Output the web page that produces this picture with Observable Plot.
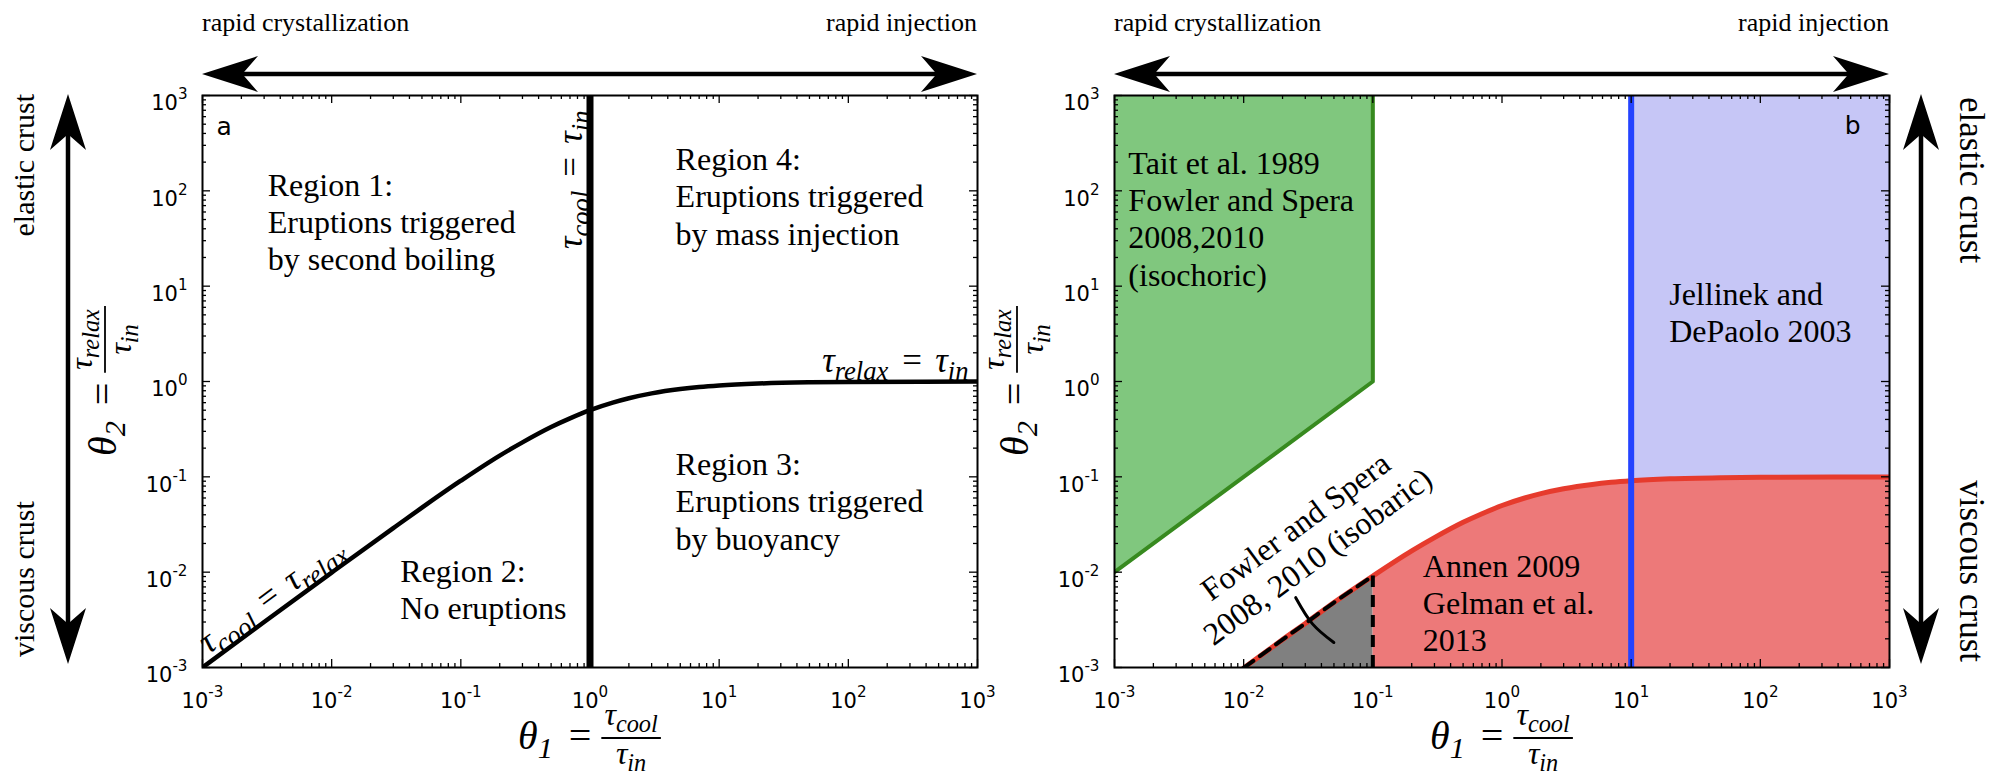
<!DOCTYPE html>
<html>
<head>
<meta charset="utf-8">
<script src="https://cdn.jsdelivr.net/npm/d3@7"></script>
<script src="https://cdn.jsdelivr.net/npm/@observablehq/plot@0.6"></script>
<style>
  html, body { margin: 0; padding: 0; background: #fff; }
  #fig { position: relative; width: 1996px; height: 779px; background: #fff; overflow: hidden; }
  #fig svg { position: absolute; top: 0; overflow: visible; }
</style>
</head>
<body>
<div id="fig"></div>
<script>
// ---------------- data ----------------
const decades = [1e-3, 1e-2, 1e-1, 1, 1e1, 1e2, 1e3];
const tickLabels = ["10^{-3}", "10^{-2}", "10^{-1}", "10^{0}", "10^{1}", "10^{2}", "10^{3}"];
const minorSteps = [2, 3, 4, 5, 6, 7, 8, 9];

// panel a: boundary tau_relax between regions
const theta1A = [0.001, 0.003, 0.01, 0.03, 0.1, 0.2, 0.3, 0.5, 0.7, 1, 1.5, 2, 3, 5, 7, 10, 20, 50, 100, 1000];
const theta2A = [0.001, 0.003, 0.0099, 0.029, 0.091, 0.167, 0.23, 0.333, 0.41, 0.5, 0.6, 0.667, 0.75, 0.833, 0.875, 0.909, 0.952, 0.98, 0.99, 0.999];
const coolEqualsIn = [1];
const regionLabels = [
  "Region 1:\nEruptions triggered\nby second boiling",
  "Region 2:\nNo eruptions",
  "Region 3:\nEruptions triggered\nby buoyancy",
  "Region 4:\nEruptions triggered\nby mass injection"
];
const regionTheta1 = [0.0032, 0.034, 4.6, 4.6];
const regionTheta2 = [43, 0.0059, 0.05, 79];
const boundaryLabelsA = ["τ_{cool}\u2004=\u2004τ_{relax}", "τ_{cool}\u2004=\u2004τ_{in}", "τ_{relax}\u2004=\u2004τ_{in}"];

// panel b
const theta1B = [0.01, 0.02, 0.03, 0.05, 0.1, 0.2, 0.3, 0.5, 0.7, 1, 1.5, 2, 3, 5, 7, 10, 20, 50, 100, 1000];
const theta2B = [0.00099, 0.00196, 0.0029, 0.0048, 0.0091, 0.0167, 0.023, 0.0333, 0.041, 0.05, 0.06, 0.0667, 0.075, 0.0833, 0.0875, 0.0909, 0.0952, 0.098, 0.099, 0.0999];
const isochoricTheta1 = [0.001, 0.1, 0.1];
const isochoricTheta2 = [0.01, 1, 1000];
const isobaricLimit = [0.1];
const jellinekLimit = [10];
const arcTheta1 = [0.0253, 0.0341, 0.0499];
const arcTheta2 = [0.0054, 0.00287, 0.00183];
const studyLabels = [
  "Tait et al. 1989\nFowler and Spera\n2008,2010\n(isochoric)",
  "Jellinek and\nDePaolo 2003",
  "Annen 2009\nGelman et al.\n2013"
];
const studyTheta1 = [0.00128, 19.7, 0.244];
const studyTheta2 = [46, 4.75, 0.00426];
const isobaricLabel = ["Fowler and Spera\n2008, 2010 (isobaric)"];
const isobaricLabelTheta1 = [0.0303];
const isobaricLabelTheta2 = [0.0215];

const panelLetters = ["a", "b"];
const topLabels = ["rapid crystallization", "rapid injection"];
const sideLabels = ["elastic crust", "viscous crust"];
const axisLabelX = ["θ_{1}\u2004=", "τ_{cool}", "τ_{in}"];
const axisLabelY = ["θ_{2}\u2004=", "τ_{relax}", "τ_{in}"];

// ---------------- styling ----------------
const SERIF = "Liberation Serif, Times New Roman, serif";
const SANS = "DejaVu Sans, sans-serif";
const GREEN_FILL = "#80c77e", GREEN = "#378a1f";
const RED_FILL = "#ed7979", RED = "#e63b2d";
const BLUE_FILL = "#c6c6f6", BLUE = "#2443ff";
const GRAY = "#808080";
const FW = 775, FH = 572;
const mathStyle = {fontFamily: SERIF, fontSize: 35, fontStyle: "italic"};
const textStyle = {fontFamily: SERIF, fontSize: 32};

// ---------------- helpers ----------------
function frameTicks() {
  const minors = decades.slice(0, -1).flatMap(d => minorSteps.map(m => d * m));
  const st = {stroke: "black", strokeWidth: 1.3};
  return [
    Plot.ruleX(decades, {...st, insetTop: FH - 8}),
    Plot.ruleX(decades, {...st, insetBottom: FH - 8}),
    Plot.ruleX(minors, {...st, insetTop: FH - 4}),
    Plot.ruleX(minors, {...st, insetBottom: FH - 4}),
    Plot.ruleY(decades, {...st, insetRight: FW - 8}),
    Plot.ruleY(decades, {...st, insetLeft: FW - 8}),
    Plot.ruleY(minors, {...st, insetRight: FW - 4}),
    Plot.ruleY(minors, {...st, insetLeft: FW - 4})
  ];
}
function axes() {
  const fmt = d => tickLabels[decades.indexOf(d)];
  return [
    Plot.axisX({ticks: decades, tickFormat: fmt, tickSize: 0, tickPadding: 26, fontSize: 21, fontFamily: SANS, label: null}),
    Plot.axisY({ticks: decades, tickFormat: fmt, tickSize: 0, tickPadding: 15, dy: 8, fontSize: 21, fontFamily: SANS, label: null})
  ];
}
const NS = "http://www.w3.org/2000/svg";
function addSpan(node, str, kind) {
  const t = document.createElementNS(NS, "tspan");
  t.textContent = str;
  if (kind === "_") {
    t.setAttribute("font-size", "76%");
    t.setAttribute("baseline-shift", "-0.3em");
  } else if (kind === "^") {
    t.setAttribute("font-size", "72%");
    t.setAttribute("baseline-shift", "0.75em");
  }
  node.appendChild(t);
}
function fix(node) {
  const s = node.textContent;
  if (!/[_^]\{/.test(s)) return;
  node.textContent = "";
  const re = /([_^])\{([^}]*)\}/g;
  let last = 0, m;
  while ((m = re.exec(s))) {
    if (m.index > last) addSpan(node, s.slice(last, m.index));
    addSpan(node, m[2], m[1]);
    last = re.lastIndex;
  }
  if (last < s.length) addSpan(node, s.slice(last));
}
function mathify(root) {
  root.querySelectorAll("text, tspan").forEach(n => {
    if (n.children.length === 0 && /[_^]\{/.test(n.textContent)) fix(n);
  });
}
function dart(g, x0, y0, x1, y1) {
  const L = 56, W = 18, N = 0.72;
  const len = Math.hypot(x1 - x0, y1 - y0);
  const ux = (x1 - x0) / len, uy = (y1 - y0) / len, nx = -uy, ny = ux;
  g.append("line")
    .attr("x1", x0 + ux * L * 0.5).attr("y1", y0 + uy * L * 0.5)
    .attr("x2", x1 - ux * L * 0.5).attr("y2", y1 - uy * L * 0.5)
    .attr("stroke", "black").attr("stroke-width", 4.5);
  for (const [tx, ty, s] of [[x0, y0, -1], [x1, y1, 1]]) {
    const bx = tx - s * ux * L, by = ty - s * uy * L;
    const pts = [[tx, ty], [bx + nx * W, by + ny * W], [tx - s * ux * L * N, ty - s * uy * L * N], [bx - nx * W, by - ny * W]];
    g.append("path").attr("d", "M" + pts.map(p => p.join(",")).join("L") + "Z").attr("fill", "black");
  }
}
function fracLabel(svg, cx, cy, angle, parts) {
  const g = svg.append("g").attr("transform", `translate(${cx},${cy}) rotate(${angle})`)
    .attr("font-family", SERIF).attr("font-style", "italic").attr("fill", "black");
  const inner = g.append("g");
  const lhs = inner.append("text").attr("font-size", 40).attr("text-anchor", "start").attr("x", 0).attr("y", 11).text(parts[0]);
  fix(lhs.node());
  const w1 = lhs.node().getBBox().width;
  const num = inner.append("text").attr("font-size", 32).attr("text-anchor", "middle").attr("y", -13).text(parts[1]);
  fix(num.node());
  const den = inner.append("text").attr("font-size", 32).attr("text-anchor", "middle").attr("y", 26).text(parts[2]);
  fix(den.node());
  const W = Math.max(num.node().getBBox().width, den.node().getBBox().width) + 6;
  const x0 = w1 + 8;
  num.attr("x", x0 + W / 2);
  den.attr("x", x0 + W / 2);
  inner.append("line").attr("x1", x0).attr("x2", x0 + W).attr("y1", 0).attr("y2", 0)
    .attr("stroke", "black").attr("stroke-width", 1.8);
  inner.attr("transform", `translate(${-(x0 + W) / 2},0)`);
}
function sideText(g, x, y, angle, anchor, size, label) {
  g.append("text").attr("transform", `translate(${x},${y}) rotate(${angle})`).attr("text-anchor", anchor)
    .attr("dominant-baseline", "central").attr("font-family", SERIF).attr("font-size", size).text(label);
}
function decorate(plot, side) {
  const svg = d3.select(plot);
  const sx = plot.scale("x"), sy = plot.scale("y");
  const xL = sx.apply(decades[0]), xR = sx.apply(decades.at(-1));
  const yT = sy.apply(decades.at(-1)), yB = sy.apply(decades[0]);
  const g = svg.append("g").attr("fill", "black");
  // top arrow + labels
  dart(g, xL, yT - 21, xR, yT - 21);
  g.append("text").attr("x", xL).attr("y", yT - 64).attr("text-anchor", "start").attr("font-family", SERIF).attr("font-size", 26).text(topLabels[0]);
  g.append("text").attr("x", xR).attr("y", yT - 64).attr("text-anchor", "end").attr("font-family", SERIF).attr("font-size", 26).text(topLabels[1]);
  // side arrow + labels
  if (side === "left") {
    const ax = xL - 134, tx = xL - 179;
    dart(g, ax, yB - 3, ax, yT - 1);
    sideText(g, tx, yT - 1, -90, "end", 30, sideLabels[0]);
    sideText(g, tx, yB - 10, -90, "start", 30, sideLabels[1]);
  } else {
    const ax = xR + 32, tx = xR + 82;
    dart(g, ax, yT - 1, ax, yB - 3);
    sideText(g, tx, yT + 2, 90, "start", 35, sideLabels[0]);
    sideText(g, tx, yB - 5, 90, "end", 35, sideLabels[1]);
  }
  fracLabel(g, (xL + xR) / 2, yB + 71, 0, axisLabelX);
  fracLabel(g, xL - 97, (yT + yB) / 2, -90, axisLabelY);
}

// ---------------- panel a ----------------
const logScale = {type: "log", domain: [decades[0], decades.at(-1)]};
const plotA = Plot.plot({
  width: 990, height: 779,
  marginLeft: 202, marginRight: 13, marginTop: 95, marginBottom: 112,
  x: logScale, y: logScale,
  style: {overflow: "visible", background: "transparent"},
  marks: [
    Plot.line(theta1A, {x: theta1A, y: theta2A, stroke: "black", strokeWidth: 4.5, curve: "monotone-x", clip: true}),
    Plot.ruleX(coolEqualsIn, {stroke: "black", strokeWidth: 7}),
    Plot.text(regionLabels, {x: regionTheta1, y: regionTheta2, text: regionLabels, textAnchor: "start", lineAnchor: "middle", lineHeight: 1.16, dy: -5, ...textStyle}),
    Plot.text([boundaryLabelsA[0]], {x: [theta1A[0]], y: [theta2A[0]], text: d => d, rotate: -36.4, textAnchor: "start", lineAnchor: "bottom", dx: 6, dy: -13, ...mathStyle}),
    Plot.text([boundaryLabelsA[1]], {x: coolEqualsIn, y: [decades.at(-1)], text: d => d, rotate: -90, textAnchor: "end", lineAnchor: "bottom", dx: -8, dy: 15, ...mathStyle}),
    Plot.text([boundaryLabelsA[2]], {x: [theta1A.at(-1)], y: [theta2A.at(-1)], text: d => d, textAnchor: "end", lineAnchor: "bottom", dx: -9, dy: -10, ...mathStyle}),
    Plot.text([panelLetters[0]], {frameAnchor: "top-left", text: d => d, textAnchor: "start", lineAnchor: "middle", dx: 14, dy: 31, fontFamily: SANS, fontSize: 25}),
    ...frameTicks(),
    Plot.frame({stroke: "black", strokeWidth: 2}),
    ...axes()
  ]
});

// ---------------- panel b ----------------
const idx = theta1B.map((_, i) => i);
const grayIdx = idx.filter(i => theta1B[i] <= isobaricLimit[0]);
const redIdx = idx.filter(i => theta1B[i] >= isobaricLimit[0]);
const blueIdx = idx.filter(i => theta1B[i] >= jellinekLimit[0]);
const X = i => theta1B[i], Y = i => theta2B[i];
const greenArea = [0, 1];
const plotB = Plot.plot({
  width: 1006, height: 779,
  marginLeft: 124, marginRight: 107, marginTop: 95, marginBottom: 112,
  x: logScale, y: logScale,
  style: {overflow: "visible", background: "transparent"},
  marks: [
    Plot.areaY(greenArea, {x: i => isochoricTheta1[i], y1: i => isochoricTheta2[i], y2: decades.at(-1), fill: GREEN_FILL}),
    Plot.areaY(redIdx, {x: X, y1: decades[0], y2: Y, fill: RED_FILL, curve: "monotone-x"}),
    Plot.areaY(grayIdx, {x: X, y1: decades[0], y2: Y, fill: GRAY, curve: "monotone-x"}),
    Plot.areaY(blueIdx, {x: X, y1: Y, y2: decades.at(-1), fill: BLUE_FILL, curve: "monotone-x"}),
    Plot.line(idx, {x: X, y: Y, stroke: RED, strokeWidth: 5, curve: "monotone-x", clip: true}),
    Plot.line(grayIdx, {x: X, y: Y, stroke: "black", strokeWidth: 4, strokeDasharray: "12,8", curve: "monotone-x", clip: true}),
    Plot.ruleX(isobaricLimit, {y1: decades[0], y2: theta2B[theta1B.indexOf(isobaricLimit[0])], stroke: "black", strokeWidth: 4, strokeDasharray: "12,8"}),
    Plot.line(arcTheta1, {x: arcTheta1, y: arcTheta2, stroke: "black", strokeWidth: 3, curve: "natural"}),
    Plot.ruleX(jellinekLimit, {stroke: BLUE, strokeWidth: 6}),
    Plot.line(isochoricTheta1, {x: isochoricTheta1, y: isochoricTheta2, stroke: GREEN, strokeWidth: 4, clip: true}),
    Plot.text(studyLabels, {x: studyTheta1, y: studyTheta2, text: studyLabels, textAnchor: "start", lineAnchor: "middle", lineHeight: 1.16, dy: -5, ...textStyle}),
    Plot.text(isobaricLabel, {x: isobaricLabelTheta1, y: isobaricLabelTheta2, text: isobaricLabel, rotate: -36.4, textAnchor: "middle", lineAnchor: "middle", lineHeight: 1.16, ...textStyle}),
    Plot.text([panelLetters[1]], {frameAnchor: "top-right", text: d => d, textAnchor: "end", lineAnchor: "middle", dx: -29, dy: 30, fontFamily: SANS, fontSize: 25}),
    ...frameTicks(),
    Plot.frame({stroke: "black", strokeWidth: 2}),
    ...axes()
  ]
});

const fig = document.getElementById("fig");
plotA.style.left = "0px";
plotB.style.left = "990px";
fig.append(plotA, plotB);
mathify(plotA);
mathify(plotB);
decorate(plotA, "left");
decorate(plotB, "right");
</script>
</body>
</html>
